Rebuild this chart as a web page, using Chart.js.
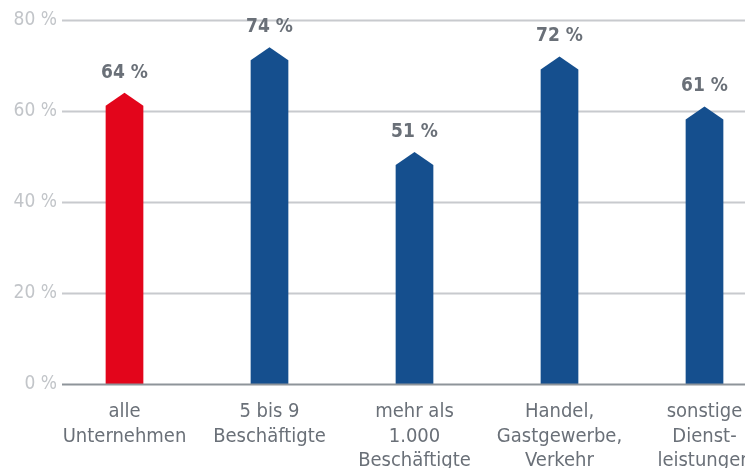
<!DOCTYPE html>
<html>
<head>
<meta charset="utf-8">
<script src="https://cdn.jsdelivr.net/npm/chart.js@4.4.1/dist/chart.umd.min.js"></script>
<style>
  html, body { margin: 0; padding: 0; background: #fff; overflow: hidden; }
  .wrap { width: 745px; height: 468px; overflow: hidden; }
</style>
</head>
<body>
<div class="wrap"><canvas id="barChart" width="790" height="468"></canvas></div>
<script>
const categories = [
  ['alle', 'Unternehmen'],
  ['5 bis 9', 'Beschäftigte'],
  ['mehr als', '1.000', 'Beschäftigte'],
  ['Handel,', 'Gastgewerbe,', 'Verkehr'],
  ['sonstige', 'Dienst-', 'leistungen']
];
const values = [64, 74, 51, 72, 61];
const barColors = ['#e3051b', '#154f8e', '#154f8e', '#154f8e', '#154f8e'];
const yTicks = [0, 20, 40, 60, 80];

const FONT = "'Liberation Sans Narrow', 'DejaVu Sans Condensed', 'Roboto', sans-serif";

// grid lines start a little right of the axis labels, labels drawn unclipped
const gridPlugin = {
  id: 'grid',
  beforeDatasetsDraw(chart) {
    const c = chart.ctx, y = chart.scales.y;
    c.save();
    c.lineWidth = 2;
    c.strokeStyle = '#c8cace';
    c.font = '19px ' + FONT;
    c.fillStyle = '#c2c5c9';
    c.textAlign = 'right';
    c.textBaseline = 'middle';
    yTicks.forEach(t => {
      const py = Math.round(y.getPixelForValue(t)) + 0.5;
      c.fillText(t + ' %', 57, py);
      if (t === 0) return;
      c.beginPath(); c.moveTo(62, py); c.lineTo(chart.width, py); c.stroke();
    });
    c.restore();
  },
  afterDatasetsDraw(chart) {
    const c = chart.ctx, y = chart.scales.y;
    const meta = chart.getDatasetMeta(0);
    c.save();
    // pointed bars
    meta.data.forEach((bar, i) => {
      const p = bar.getProps(['x', 'y', 'base', 'width'], true);
      const l = p.x - p.width / 2, r = p.x + p.width / 2;
      c.fillStyle = barColors[i];
      c.beginPath();
      c.moveTo(l, p.base);
      c.lineTo(l, p.y + 13);
      c.lineTo(p.x, p.y);
      c.lineTo(r, p.y + 13);
      c.lineTo(r, p.base);
      c.closePath();
      c.fill();
      // value label
      c.fillStyle = '#6a7078';
      c.font = 'bold 19px ' + FONT;
      c.textAlign = 'center';
      c.textBaseline = 'middle';
      c.fillText(values[i] + ' %', p.x, p.y - 20);
    });
    // baseline
    const by = Math.round(y.getPixelForValue(0)) + 0.5;
    c.lineWidth = 2;
    c.strokeStyle = '#8e949a';
    c.beginPath(); c.moveTo(62, by); c.lineTo(chart.width, by); c.stroke();
    c.restore();
  }
};

new Chart(document.getElementById('barChart').getContext('2d'), {
  type: 'bar',
  data: {
    labels: categories,
    datasets: [{
      data: values,
      backgroundColor: 'rgba(0,0,0,0)',
      barPercentage: 0.52,
      categoryPercentage: 0.5
    }]
  },
  options: {
    responsive: false,
    animation: false,
    layout: { padding: { top: 20, right: 13, left: 0, bottom: 0 } },
    plugins: { legend: { display: false }, tooltip: { enabled: false } },
    scales: {
      x: {
        grid: { display: false, drawTicks: false },
        border: { display: false },
        ticks: {
          color: '#6a7078',
          font: { family: FONT, size: 20, lineHeight: 1.22 },
          padding: 16,
          maxRotation: 0,
          autoSkip: false
        },
        afterFit(s) { s.height = 84; }
      },
      y: {
        min: 0,
        max: 80,
        grid: { display: false, drawTicks: false },
        border: { display: false },
        ticks: { display: false, stepSize: 20 },
        afterFit(s) { s.width = 52; }
      }
    }
  },
  plugins: [gridPlugin]
});
</script>
</body>
</html>
